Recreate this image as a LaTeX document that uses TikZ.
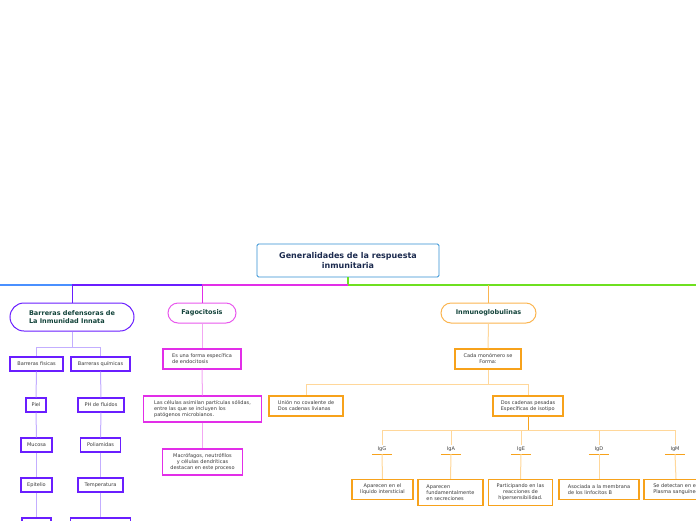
\documentclass[tikz,border=0pt]{standalone}
\usepackage{fontspec}
\setmainfont{DejaVu Sans}
\definecolor{rootblue}{HTML}{2F8FD3}
\definecolor{navy}{HTML}{1B2A4E}
\definecolor{pilltxt}{HTML}{12433A}
\definecolor{txtgray}{HTML}{3A3A3A}
\definecolor{lblue}{HTML}{4A90FF}
\definecolor{purp}{HTML}{6A1EFF}
\definecolor{lpurp}{HTML}{C3AEFF}
\definecolor{mag}{HTML}{E22EE8}
\definecolor{lmag}{HTML}{F3A6F3}
\definecolor{orng}{HTML}{F7A21B}
\definecolor{lorng}{HTML}{FFD79A}
\definecolor{porng}{HTML}{FBB550}
\definecolor{grn}{HTML}{6EE020}
\begin{document}
\begin{tikzpicture}[x=1pt,y=-1pt,
  sz/.style 2 args={minimum width=#1, minimum height=#2},
  bx/.style={draw, line width=1.3pt, inner sep=0pt, fill=white, text=txtgray,
     font=\fontsize{5}{6}\selectfont},
  pb/.style={bx, draw=purp},
  mb/.style={bx, draw=mag},
  ob/.style={bx, draw=orng},
  pill/.style={draw, line width=1pt, inner sep=0pt, fill=white, text=pilltxt,
     font=\bfseries\fontsize{6.5}{8}\selectfont, align=center},
  lbl/.style={inner sep=0pt, text=txtgray, font=\fontsize{5}{6}\selectfont, sz={20}{9}},
  pline/.style={draw=lpurp, line width=1pt},
  mline/.style={draw=lmag, line width=1pt},
  oline/.style={draw=lorng, line width=1pt},
]
\useasboundingbox (0,0) rectangle (696,520);
\clip (0,0) rectangle (696,520);

% root
\node[draw=rootblue, line width=0.9pt, rounded corners=1.5pt, sz={182}{33},
  font=\bfseries\fontsize{8}{9.5}\selectfont, text=navy, align=center, inner sep=0pt]
  (root) at (348,260.5) {Generalidades de la respuesta\\inmunitaria};

% main branches
\node[pill, draw=purp, sz={124}{28}, rounded corners=14pt, align=left] (bar) at (72,317)
  {Barreras defensoras de\\La Inmunidad Innata};
\node[pill, draw=mag!80, sz={68}{20}, rounded corners=10pt] (fag) at (202,313) {Fagocitosis};
\node[pill, draw=porng, sz={95}{20}, rounded corners=10pt] (inm) at (488.5,313) {Inmunoglobulinas};

\coordinate (L0) at (0,285);
\coordinate (R0) at (696,285);
\coordinate (j) at (348,285);
\draw[grn, line width=2pt] (root.south) -- (j);
\draw[lblue, line width=1.4pt] (L0) -- (bar.north |- j);
\draw[purp, line width=1.4pt] (bar.north |- j) -- (fag.north |- j);
\draw[mag, line width=1.4pt] (fag.north |- j) -- (j);
\draw[grn, line width=1.4pt] (j) -- (R0);
\draw[purp, line width=1pt] (bar.north |- j) -- (bar.north);
\draw[mag, line width=1pt] (fag.north |- j) -- (fag.north);
\draw[porng, line width=1pt] (inm.north |- j) -- (inm.north);

% Barreras
\node[pb, sz={53}{14}] (bf) at (36.5,364) {Barreras fisicas};
\node[pb, sz={59}{14}] (bq) at (100.5,364) {Barreras químicas};
\node[pb, sz={20}{14}] (piel) at (36,405) {Piel};
\node[pb, sz={31}{14}] (muc) at (36.5,445) {Mucosa};
\node[pb, sz={31}{14}] (epi) at (36.5,485) {Epitelio};
\node[pb, sz={29}{14}] (lx) at (36.5,525) {};
\node[pb, sz={46}{14}] (ph) at (101,405) {PH de fluidos};
\node[pb, sz={40}{14}] (pol) at (100.5,445) {Poliamidas};
\node[pb, sz={45}{14}] (tem) at (100.5,485) {Temperatura};
\node[pb, sz={60}{14}] (rx) at (100.5,525) {};
\draw[pline] (bar.south) -- ++(0,16) coordinate (bj);
\draw[pline] (bj) -| (bf.north);
\draw[pline] (bj) -| (bq.north);
\draw[pline] (bf) -- (piel);
\draw[pline] (piel) -- (muc);
\draw[pline] (muc) -- (epi);
\draw[pline] (epi) -- (lx);
\draw[pline] (bq) -- (ph);
\draw[pline] (ph) -- (pol);
\draw[pline] (pol) -- (tem);
\draw[pline] (tem) -- (rx);

% Fagocitosis
\node[mb, sz={78}{20}, align=left] (f1) at (202,359) {Es una forma específica\\de endocitosis};
\node[mb, sz={118}{26}, align=left] (f2) at (202.5,409) {Las células asimilan partículas sólidas,\\entre las que se incluyen los\\patógenos microbianos.};
\node[mb, sz={80}{26}, align=center] (f3) at (202.5,462) {Macrófagos, neutrófilos\\y células dendríticas\\destacan en este proceso};
\draw[mline] (fag) -- (f1);
\draw[mline] (f1) -- (f2);
\draw[mline] (f2) -- (f3);

% Inmunoglobulinas
\node[ob, sz={66}{20}, align=center] (cm) at (488,359) {Cada monómero se\\Forma:};
\node[ob, sz={74}{20}, align=left] (un) at (306,406) {Unión no covalente de\\Dos cadenas livianas};
\node[ob, sz={70}{20}, align=left] (dc) at (528,406) {Dos cadenas pesadas\\Específicas de isotipo};
\draw[oline] (inm) -- (cm);
\draw[oline] (cm.south) -- ++(0,15) coordinate (cj);
\draw[oline] (cj) -| (un.north);
\draw[oline] (cj) -| (dc.north);

\node[lbl] (igg) at (382,449.5) {IgG};
\node[lbl] (iga) at (451,449.5) {IgA};
\node[lbl] (ige) at (521,449.5) {IgE};
\node[lbl] (igd) at (599,449.5) {IgD};
\node[lbl] (igm) at (675,449.5) {IgM};
\foreach \n in {igg,iga,ige,igd,igm}
  \draw[orng, line width=1pt] (\n.south west) -- (\n.south east);

\draw[orng, line width=1pt] (dc.south) -- ++(0,14) coordinate (dj);
\draw[oline] (dj) -| (igg.north);
\draw[oline] (dj) -| (iga.north);
\draw[oline] (dj) -| (ige.north);
\draw[oline] (dj) -| (igd.north);
\draw[oline] (dj) -| (igm.north);

\node[ob, sz={61}{20}, align=center] (bg) at (382.5,489.5) {Aparecen en el\\líquido intersticial};
\node[ob, sz={65}{26}, align=left] (ba) at (450.5,492.5) {Aparecen\\fundamentalmente\\en secreciones};
\node[ob, sz={64}{26}, align=center] (be) at (520.5,492.5) {Participando en las\\reacciones de\\hipersensibilidad.};
\node[ob, sz={80}{20}, align=left] (bd) at (599,489.5) {Asociada a la membrana\\de los linfocitos B};
\node[ob, sz={64}{20}, align=left] (bm) at (676,489.5) {Se detectan en el\\Plasma sanguíneo};
\draw[oline] (igg.south) -- (bg.north);
\draw[oline] (iga.south) -- (ba.north);
\draw[oline] (ige.south) -- (be.north);
\draw[oline] (igd.south) -- (bd.north);
\draw[oline] (igm.south) -- (bm.north);
\end{tikzpicture}
\end{document}
